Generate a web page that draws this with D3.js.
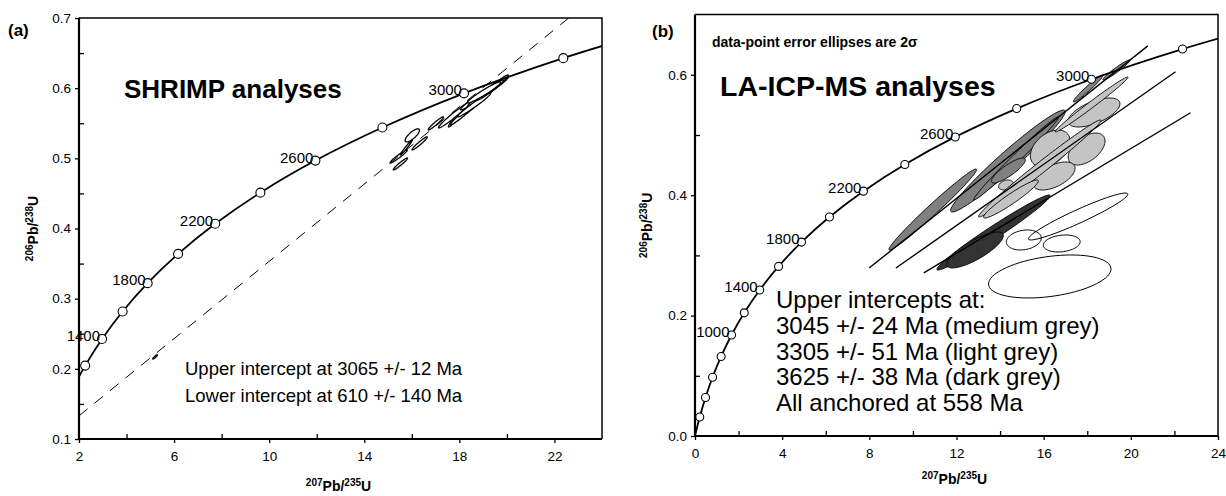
<!DOCTYPE html>
<html>
<head>
<meta charset="utf-8">
<script src="https://cdn.jsdelivr.net/npm/d3@7"></script>
<style>
body { margin: 0; background: #fff; }
svg text { font-family: "Liberation Sans", Arial, sans-serif; fill: #000; }
</style>
</head>
<body>
<svg id="chart" width="1226" height="496"></svg>
<script>
// concordia reference points, every 200 Ma (207Pb/235U, 206Pb/238U)
var concAges = [0, 200, 400, 600, 800, 1000, 1200, 1400, 1600, 1800, 2000, 2200, 2400, 2600, 2800, 3000, 3200, 3400];
var concX = [0, 0.2177, 0.4828, 0.8056, 1.1988, 1.6774, 2.2603, 2.9702, 3.8345, 4.8870, 6.1687, 7.7294, 9.6298, 11.944, 14.762, 18.194, 22.372, 27.461];
var concY = [0, 0.0315, 0.0640, 0.0975, 0.1321, 0.1678, 0.2046, 0.2426, 0.2817, 0.3221, 0.3638, 0.4067, 0.4511, 0.4968, 0.5439, 0.5926, 0.6428, 0.6946];

var labelsA = [1400, 1800, 2200, 2600, 3000];
var labelsB = [1000, 1400, 1800, 2200, 2600, 3000];

// SHRIMP error ellipses: cx, cy, sx, sy, rho
var ellA = [
  [17.01, 0.5498, 0.32, 0.0093, 0.96],
  [17.79, 0.5547, 0.25, 0.0100, 0.94],
  [16.33, 0.5213, 0.32, 0.0093, 0.96],
  [16.02, 0.5327, 0.30, 0.0093, 0.78],
  [15.45, 0.5027, 0.36, 0.0093, 0.96],
  [15.52, 0.4920, 0.30, 0.0085, 0.96],
  [15.77, 0.5155, 0.25, 0.0107, 0.98],
  [17.79, 0.5618, 0.67, 0.0185, 0.975],
  [18.47, 0.5725, 0.85, 0.0250, 0.985],
  [19.05, 0.5925, 1.01, 0.0235, 0.98],
  [18.97, 0.5903, 0.63, 0.0170, 0.97],
  [18.62, 0.5761, 0.70, 0.0171, 0.975],
  [19.41, 0.6010, 0.65, 0.0178, 0.975],
  [19.37, 0.5996, 0.49, 0.0120, 0.96],
  [19.04, 0.5939, 0.70, 0.0150, 0.96],
  [5.20, 0.2170, 0.10, 0.0030, 0.90]
];
var discA = [[2, 0.133], [22.6, 0.7]];

// LA-ICP-MS error ellipses by group: cx, cy, sx, sy, rho
var ellMedium = [
  [10.91, 0.3762, 2.01, 0.0673, 0.985],
  [14.36, 0.4568, 2.63, 0.0847, 0.97],
  [14.73, 0.4610, 1.94, 0.0689, 0.99],
  [14.38, 0.4410, 0.78, 0.0208, 0.85],
  [18.04, 0.5772, 0.68, 0.0224, 0.97],
  [19.34, 0.6080, 0.62, 0.0166, 0.96]
];
var ellLight = [
  [18.31, 0.5374, 1.19, 0.0241, 0.60],
  [16.30, 0.4776, 0.91, 0.0307, 0.40],
  [17.97, 0.4767, 0.845, 0.0266, 0.50],
  [16.48, 0.4319, 0.96, 0.0233, 0.55],
  [14.27, 0.4170, 0.34, 0.0083, 0.30],
  [15.82, 0.4444, 2.81, 0.0806, 0.99],
  [18.20, 0.5507, 1.67, 0.0457, 0.99],
  [14.50, 0.3937, 1.26, 0.0316, 0.95]
];
var ellDark = [
  [13.70, 0.3380, 2.60, 0.0623, 0.98],
  [12.85, 0.3090, 1.30, 0.0299, 0.80]
];
var ellOpen = [
  [16.28, 0.2650, 2.81, 0.0357, 0.35],
  [17.58, 0.3646, 2.28, 0.0390, 0.95],
  [15.09, 0.3256, 0.80, 0.0166, 0.20],
  [16.83, 0.3198, 0.845, 0.0141, 0.20]
];
var discB = [
  [[7.99, 0.279], [20.78, 0.648]],
  [[9.22, 0.279], [22.05, 0.605]],
  [[10.50, 0.271], [22.74, 0.537]]
];

var svg = d3.select("#chart");

function ellipsePath(e, x, y) {
  var pts = d3.range(0, 72).map(function (i) {
    var t = i / 72 * 2 * Math.PI;
    return [x(e[0] + e[2] * Math.cos(t)),
            y(e[1] + e[3] * (e[4] * Math.cos(t) + Math.sqrt(1 - e[4] * e[4]) * Math.sin(t)))];
  });
  return d3.line().curve(d3.curveLinearClosed)(pts);
}

function panel(opt) {
  var x = d3.scaleLinear().domain(opt.xDom).range([opt.left, opt.right]);
  var y = d3.scaleLinear().domain(opt.yDom).range([opt.bottom, opt.top]);
  var g = svg.append("g");

  g.append("clipPath").attr("id", opt.id + "clip")
    .append("rect")
    .attr("x", opt.left).attr("y", opt.top)
    .attr("width", opt.right - opt.left).attr("height", opt.bottom - opt.top);

  var plot = g.append("g").attr("clip-path", "url(#" + opt.id + "clip)");

  // x ticks: labelled ones outward, others inward
  g.append("g")
    .attr("transform", "translate(0," + opt.bottom + ")")
    .call(d3.axisBottom(x).tickValues(opt.xMajor).tickSize(4).tickPadding(8).tickFormat(d3.format("d")))
    .call(function (a) { a.select(".domain").remove(); });
  g.append("g")
    .attr("transform", "translate(0," + opt.bottom + ")")
    .call(d3.axisBottom(x).tickValues(opt.xMinor).tickSize(-5).tickFormat(""))
    .call(function (a) { a.select(".domain").remove(); });
  g.append("g")
    .attr("transform", "translate(" + opt.left + ",0)")
    .call(d3.axisLeft(y).tickValues(opt.yMajor).tickSize(4).tickPadding(4).tickFormat(d3.format(".1f")))
    .call(function (a) { a.select(".domain").remove(); });
  g.append("g")
    .attr("transform", "translate(" + opt.left + ",0)")
    .call(d3.axisLeft(y).tickValues(opt.yMinor).tickSize(-5).tickFormat(""))
    .call(function (a) { a.select(".domain").remove(); });
  g.selectAll(".tick text").style("font-size", "13.5px").attr("fill", "#000");
  g.selectAll(".tick line").attr("stroke", "#000").attr("stroke-width", 1.3);

  // ellipse groups
  opt.ellipses.forEach(function (grp) {
    plot.selectAll(null).data(grp.data).enter().append("path")
      .attr("d", function (e) { return ellipsePath(e, x, y); })
      .attr("fill", grp.fill)
      .attr("stroke", "#000")
      .attr("stroke-width", grp.sw);
  });

  // discordia lines
  opt.lines.forEach(function (l) {
    plot.append("path")
      .attr("d", d3.line().x(function (d) { return x(d[0]); }).y(function (d) { return y(d[1]); })(l))
      .attr("fill", "none")
      .attr("stroke", "#000")
      .attr("stroke-width", opt.dash ? 1 : 1.4)
      .attr("stroke-dasharray", opt.dash ? "11,9" : null);
  });

  // concordia curve
  var conc = concAges.map(function (a, i) { return [concX[i], concY[i], a]; });
  plot.append("path")
    .attr("d", d3.line().curve(d3.curveCatmullRom)
      .x(function (d) { return x(d[0]); }).y(function (d) { return y(d[1]); })(conc))
    .attr("fill", "none").attr("stroke", "#000").attr("stroke-width", 1.8);

  var shown = conc.filter(function (d) {
    return d[2] > 0 && d[0] > opt.xDom[0] && d[0] < opt.xDom[1] && d[1] < opt.yDom[1];
  });
  plot.selectAll(null).data(shown).enter().append("circle")
    .attr("cx", function (d) { return x(d[0]); })
    .attr("cy", function (d) { return y(d[1]); })
    .attr("r", opt.r)
    .attr("fill", "#fff").attr("stroke", "#000").attr("stroke-width", 1.1);

  g.selectAll(null).data(shown.filter(function (d) { return opt.labels.indexOf(d[2]) >= 0; }))
    .enter().append("text")
    .attr("x", function (d) { return x(d[0]) - 2; })
    .attr("y", function (d) { return y(d[1]) + 2; })
    .attr("text-anchor", "end")
    .style("font-size", "15px")
    .text(function (d) { return d[2]; });

  // frame
  g.append("path")
    .attr("d", "M" + opt.left + "," + opt.top + "H" + opt.right + "V" + opt.bottom)
    .attr("fill", "none").attr("stroke", "#000").attr("stroke-width", 1.5);
  g.append("path")
    .attr("d", "M" + opt.left + "," + opt.top + "V" + opt.bottom + "H" + opt.right)
    .attr("fill", "none").attr("stroke", "#000").attr("stroke-width", 2.2);

  // axis titles
  var xt = g.append("text")
    .attr("x", (opt.left + opt.right) / 2 - 2).attr("y", opt.bottom + opt.xTitleDy)
    .attr("text-anchor", "middle")
    .style("font-size", "14px").style("font-weight", "bold");
  xt.append("tspan").attr("dy", -5).style("font-size", "10px").text("207");
  xt.append("tspan").attr("dy", 5).text("Pb/");
  xt.append("tspan").attr("dy", -5).style("font-size", "10px").text("235");
  xt.append("tspan").attr("dy", 5).text("U");

  var yt = g.append("text")
    .attr("transform", "translate(" + opt.yTitleX + "," + ((opt.top + opt.bottom) / 2) + ") rotate(-90)")
    .attr("text-anchor", "middle")
    .style("font-size", "14px").style("font-weight", "bold");
  yt.append("tspan").attr("dy", -5).style("font-size", "10px").text("206");
  yt.append("tspan").attr("dy", 5).text("Pb/");
  yt.append("tspan").attr("dy", -5).style("font-size", "10px").text("238");
  yt.append("tspan").attr("dy", 5).text("U");

  g.append("text").attr("x", opt.tagX).attr("y", opt.tagY)
    .style("font-size", "17px").style("font-weight", "bold").text(opt.tag);

  g.append("text").attr("x", opt.titleX).attr("y", opt.titleY)
    .style("font-size", opt.titleSize).style("font-weight", "bold").text(opt.title);

  g.selectAll(null).data(opt.notes).enter().append("text")
    .attr("x", opt.noteX)
    .attr("y", function (d, i) { return opt.noteY + i * opt.noteStep; })
    .style("font-size", opt.noteSize)
    .text(function (d) { return d; });

  return g;
}

panel({
  id: "a", left: 79, right: 602, top: 18, bottom: 439,
  xDom: [2, 24], yDom: [0.1, 0.7],
  xMajor: [2, 6, 10, 14, 18, 22], xMinor: [4, 8, 12, 16, 20],
  yMajor: [0.1, 0.2, 0.3, 0.4, 0.5, 0.6, 0.7], yMinor: [0.15, 0.25, 0.35, 0.45, 0.55, 0.65],
  ellipses: [{ data: ellA, fill: "#fff", sw: 1.3 }],
  lines: [discA], dash: true, r: 4.5,
  labels: labelsA,
  xTitleDy: 52, yTitleX: 38,
  tag: "(a)", tagX: 8, tagY: 36,
  title: "SHRIMP analyses", titleX: 124, titleY: 98, titleSize: "26px",
  notes: ["Upper intercept at 3065 +/- 12 Ma", "Lower intercept at 610 +/- 140 Ma"],
  noteX: 185, noteY: 375, noteStep: 27, noteSize: "18.5px"
});

var gb = panel({
  id: "b", left: 695, right: 1218, top: 14.6, bottom: 436,
  xDom: [0, 24], yDom: [0, 0.7],
  xMajor: [0, 4, 8, 12, 16, 20, 24], xMinor: [2, 6, 10, 14, 18, 22],
  yMajor: [0, 0.2, 0.4, 0.6], yMinor: [0.1, 0.3, 0.5],
  ellipses: [
    { data: ellMedium, fill: "#808080", sw: 0.9 },
    { data: ellLight, fill: "#c4c4c4", sw: 0.9 },
    { data: ellDark, fill: "#333333", sw: 0.9 },
    { data: ellOpen, fill: "none", sw: 1 }
  ],
  lines: discB, dash: false, r: 4,
  labels: labelsB,
  xTitleDy: 48, yTitleX: 652,
  tag: "(b)", tagX: 652, tagY: 37,
  title: "LA-ICP-MS analyses", titleX: 720, titleY: 96, titleSize: "28.5px",
  notes: ["Upper intercepts at:", "3045 +/- 24 Ma (medium grey)", "3305 +/- 51 Ma (light grey)",
          "3625 +/- 38 Ma (dark grey)", "All anchored at 558 Ma"],
  noteX: 776, noteY: 308, noteStep: 25.8, noteSize: "24px"
});

gb.append("text").attr("x", 712).attr("y", 47)
  .style("font-size", "14px").style("font-weight", "bold")
  .text("data-point error ellipses are 2σ");
</script>
</body>
</html>
